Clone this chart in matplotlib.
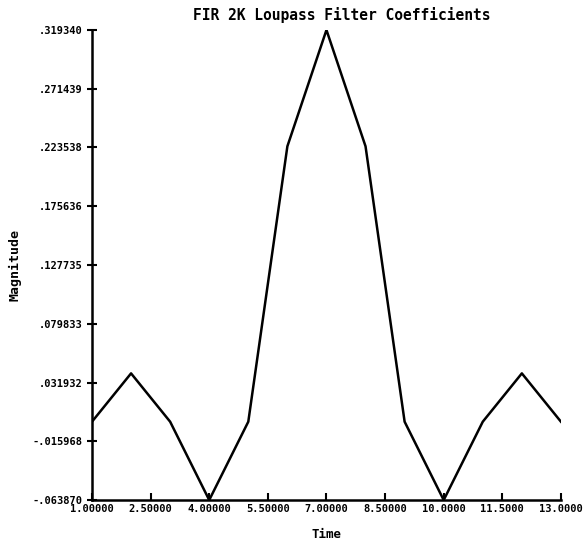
import matplotlib
matplotlib.use("Agg")
import matplotlib.pyplot as plt

# filter taps
time = [1, 2, 3, 4, 5, 6, 7, 8, 9, 10, 11, 12, 13]
magnitude = [0.0, 0.0394, 0.0, -0.06387, 0.0, 0.2245, 0.31934,
             0.2245, 0.0, -0.06387, 0.0, 0.0394, 0.0]

x_ticks = [1.0, 2.5, 4.0, 5.5, 7.0, 8.5, 10.0, 11.5, 13.0]
x_labels = ["1.00000", "2.50000", "4.00000", "5.50000", "7.00000",
            "8.50000", "10.0000", "11.5000", "13.0000"]
y_ticks = [-0.063870, -0.015968, 0.031932, 0.079833, 0.127735,
           0.175636, 0.223538, 0.271439, 0.319340]
y_labels = ["-.063870", "-.015968", ".031932", ".079833", ".127735",
            ".175636", ".223538", ".271439", ".319340"]

fig = plt.figure(figsize=(5.84, 5.55), dpi=100)
ax = fig.add_axes([0.1575, 0.099, 0.803, 0.847])

ax.plot(time, magnitude, color="black", linewidth=1.8)

ax.set_xlim(1, 13)
ax.set_ylim(-0.063870, 0.319340)
ax.set_xticks(x_ticks)
ax.set_xticklabels(x_labels)
ax.set_yticks(y_ticks)
ax.set_yticklabels(y_labels)

for s in ["top", "right"]:
    ax.spines[s].set_visible(False)
for s in ["left", "bottom"]:
    ax.spines[s].set_linewidth(1.8)

font = dict(family="DejaVu Sans Mono", weight="bold")
ax.tick_params(axis="x", direction="in", length=5, width=1.5, pad=3, labelsize=7.5)
ax.tick_params(axis="y", direction="inout", length=7, width=1.5, pad=3, labelsize=7.5)
for lab in ax.get_xticklabels() + ax.get_yticklabels():
    lab.set_fontfamily("DejaVu Sans Mono")
    lab.set_fontweight("bold")

ax.set_xlabel("Time", fontsize=9, labelpad=10, **font)
ax.set_ylabel("Magnitude", fontsize=9.5, labelpad=8, **font)
fig.text(0.585, 0.964, "FIR 2K Loupass Filter Coefficients", ha="center",
         fontsize=10.5, **font)

fig.savefig("out.png", dpi=100)
